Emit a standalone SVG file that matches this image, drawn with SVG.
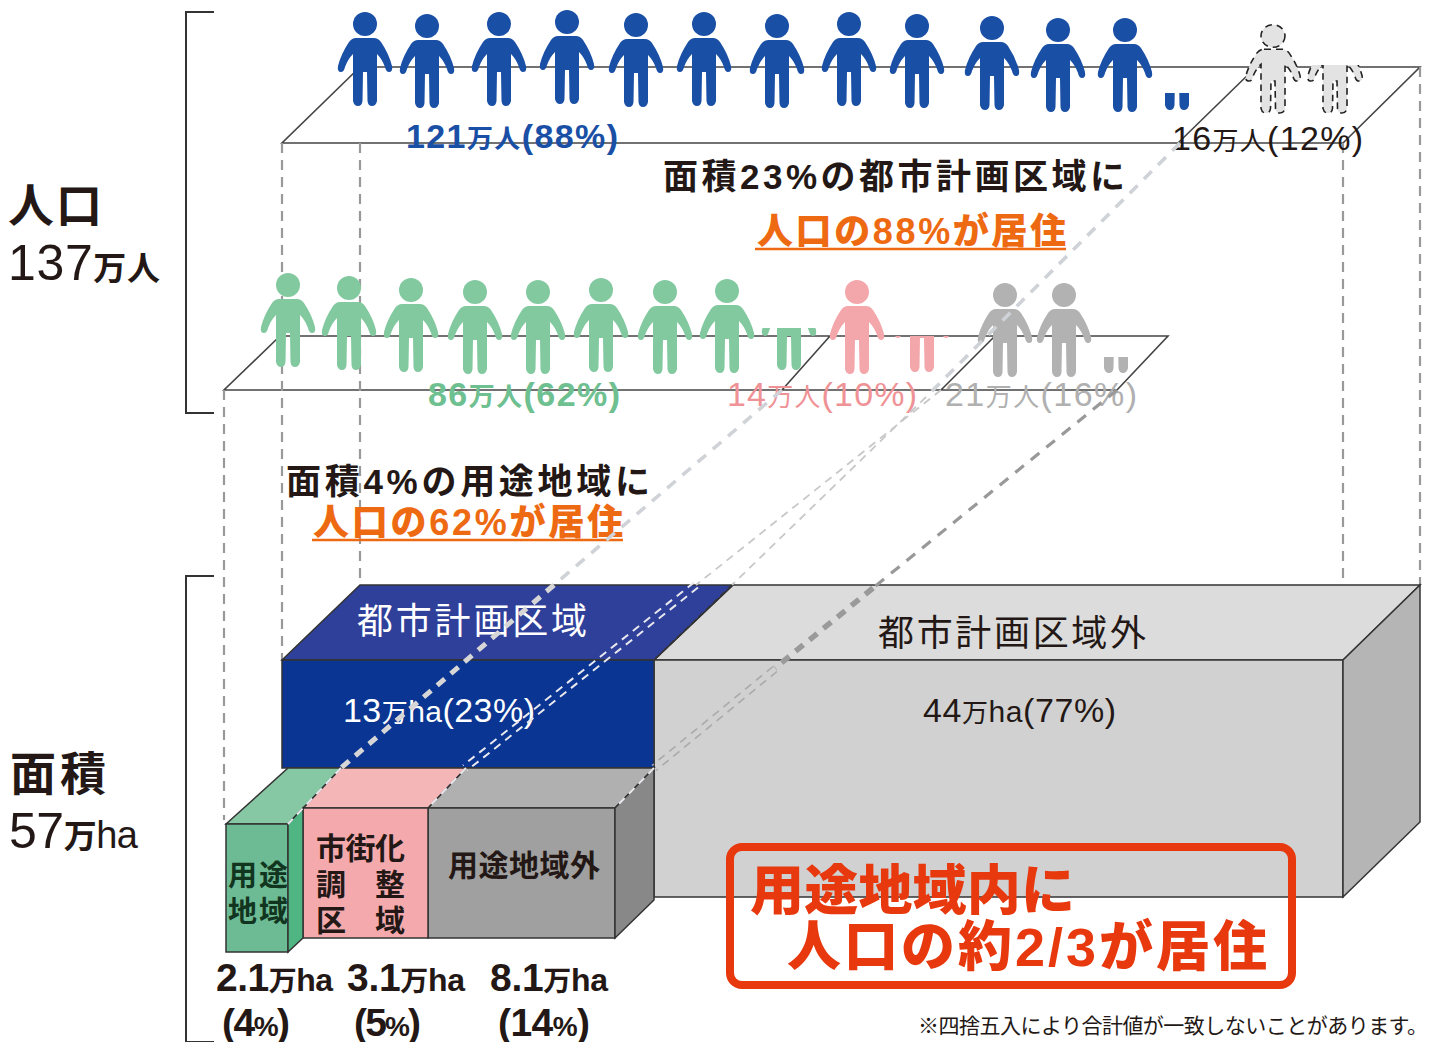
<svg xmlns="http://www.w3.org/2000/svg" xmlns:xlink="http://www.w3.org/1999/xlink" width="1430" height="1042" viewBox="0 0 1430 1042">
<style>
text{font-family:"Liberation Sans Narrow","Liberation Sans","Noto Sans CJK JP","Noto Sans",sans-serif;fill:#231815}
.b{font-weight:700}
.m{font-weight:500}
.w{fill:#fff}
.or{fill:#ee6a12;font-weight:900}
.red{fill:#e8380d;font-weight:900}
.e{stroke:#333;stroke-width:1.5}
.pl{fill:none;stroke:#444;stroke-width:1.6}
.v{fill:none;stroke:#999;stroke-width:2.2;stroke-dasharray:10 7}
.br{fill:none;stroke:#333;stroke-width:2}
.pb{fill:#1a4fa6}.pg{fill:#82c9a0}.pp{fill:#f4a7ab}.pa{fill:#b2b2b2}
.pd{fill:#e3e3e3;stroke:#222;stroke-width:1.6;stroke-dasharray:7 5}
.l1{fill:none;stroke:#cfd2d6;stroke-width:3.6;stroke-dasharray:11 9}
.l1t{fill:none;stroke:#d6d6d6;stroke-width:5;stroke-dasharray:10 8}
.l2{fill:none;stroke:#c8c8c8;stroke-width:1.8;stroke-dasharray:8 6}
.l3{fill:none;stroke:#999;stroke-width:3.2;stroke-dasharray:11 9}
.l3t{fill:none;stroke:#9a9a9a;stroke-width:5.5;stroke-dasharray:10 8}
.l4{fill:none;stroke:#aaa;stroke-width:1.6;stroke-dasharray:8 6}
.l5{fill:none;stroke:#e8e8ee;stroke-width:2;stroke-dasharray:8 6}
.ln{fill:none;stroke:#333;stroke-width:1.6;stroke-dasharray:6 4}
</style>
<defs>
<g id="p"><circle cx="0" cy="0" r="12"/><path d="M-9,14H9Q13,14 16,18Q24,30 27,42Q28,48 24,48Q21,48 20,43Q17,35 12,30L12,77Q11,82 7,82Q3,82 2.5,77L2,48H-2L-2.5,77Q-3,82 -7,82Q-11,82 -12,77L-12,30Q-17,35 -20,43Q-21,48 -24,48Q-28,48 -27,42Q-24,30 -16,18Q-13,14 -9,14Z"/></g>
<clipPath id="c1"><rect x="1150" y="93" width="60" height="30"/></clipPath>
<clipPath id="c2"><rect x="1295" y="65" width="80" height="60"/></clipPath>
<clipPath id="c3"><rect x="755" y="328" width="70" height="50"/></clipPath>
<clipPath id="c4"><rect x="890" y="336" width="70" height="40"/></clipPath>
<clipPath id="c5"><rect x="1090" y="357" width="50" height="20"/></clipPath>
</defs>
<rect width="1430" height="1042" fill="#fff"/>

<g id="brackets">
<path class="br" d="M214,12H186V413H214"/>
<path class="br" d="M214,576H186V1042H214"/>
</g>
<g id="label-population">
<text class="b" x="8" y="222" font-size="46" textLength="94">人口</text>
<text x="8" y="280" font-size="50" textLength="152">137<tspan font-size="33" font-weight="700">万人</tspan></text>
</g>
<g id="label-area">
<text class="b" x="10" y="790" font-size="46" textLength="96">面積</text>
<text x="9" y="848" font-size="50" textLength="129">57<tspan font-size="33" font-weight="700">万</tspan><tspan font-size="38">ha</tspan></text>
</g>

<g id="plane-top">
<path class="pl" d="M282,143H1343L1420,67H360ZM1178,143L1256,67"/>
</g>
<g id="plane-mid">
<path class="pl" d="M224,390H1117L1168,336H280ZM782,390L830,336M941,390L995,336"/>
</g>

<g id="guides">
<path class="v" d="M282,143V660M360,143V585M1343,143V660M1420,67V585M224,390V820"/>
</g>

<g id="people-blue" class="pb">
<use href="#p" x="365" y="24"/><use href="#p" x="427" y="26"/><use href="#p" x="499" y="24"/><use href="#p" x="567" y="22"/><use href="#p" x="636" y="25"/><use href="#p" x="704" y="24"/><use href="#p" x="777" y="26"/><use href="#p" x="849" y="24"/><use href="#p" x="917" y="26"/><use href="#p" x="992" y="28"/><use href="#p" x="1058" y="30"/><use href="#p" x="1125" y="30"/>
<g clip-path="url(#c1)"><use href="#p" x="1177" y="28"/></g>
</g>
<g id="people-dashed" class="pd">
<g transform="translate(1273,36) scale(1,.94)"><use href="#p"/></g>
<g clip-path="url(#c2)"><g transform="translate(1335,36) scale(1,.94)"><use href="#p"/></g></g>
</g>
<g id="people-green" class="pg">
<use href="#p" x="288" y="285"/><use href="#p" x="349" y="288"/><use href="#p" x="411" y="290"/><use href="#p" x="475" y="292"/><use href="#p" x="538" y="292"/><use href="#p" x="601" y="290"/><use href="#p" x="665" y="292"/><use href="#p" x="727" y="291"/>
<g clip-path="url(#c3)"><use href="#p" x="789" y="288"/></g>
</g>
<g id="people-pink" class="pp">
<use href="#p" x="857" y="292"/>
<g clip-path="url(#c4)"><use href="#p" x="922" y="290"/></g>
</g>
<g id="people-gray" class="pa">
<use href="#p" x="1005" y="295"/><use href="#p" x="1064" y="295"/>
<g clip-path="url(#c5)"><use href="#p" x="1116" y="291"/></g>
</g>

<g id="population-labels">
<text x="406" y="148" font-size="34" font-weight="700" style="fill:#1a4fa6" textLength="212">121<tspan font-size="26">万人</tspan>(88%)</text>
<text x="1172" y="150" font-size="34" textLength="191">16<tspan font-size="26">万人</tspan>(12%)</text>
<text x="428" y="406" font-size="34" font-weight="700" style="fill:#6fc091" textLength="192">86<tspan font-size="26">万人</tspan>(62%)</text>
<text x="727" y="406" font-size="34" style="fill:#ef9296" textLength="190">14<tspan font-size="26">万人</tspan>(10%)</text>
<text x="945" y="406" font-size="34" style="fill:#b0b0b0" textLength="192">21<tspan font-size="26">万人</tspan>(16%)</text>
</g>

<g id="note-88">
<text class="b" x="663" y="189" font-size="35" textLength="462">面積23%の都市計画区域に</text>
<text class="or" x="757" y="244" font-size="36" textLength="309">人口の88%が居住</text>
<path d="M755,249H1066" stroke="#ee6a12" stroke-width="2.5" fill="none"/>
</g>
<g id="note-62">
<text class="b" x="286" y="494" font-size="35" textLength="364">面積4%の用途地域に</text>
<text class="or" x="313" y="535" font-size="36" textLength="310">人口の62%が居住</text>
<path d="M312,540H623" stroke="#ee6a12" stroke-width="2.5" fill="none"/>
</g>

<g id="block-outside">
<path class="e" fill="#dcdcdc" d="M654,660L733,585H1420L1343,660Z"/>
<rect class="e" x="654" y="660" width="689" height="237" fill="#d1d1d1"/>
<path class="e" fill="#b5b5b5" d="M1343,660L1420,585V822L1343,897Z"/>
<text x="878" y="646" font-size="36" textLength="268">都市計画区域外</text>
<text x="923" y="722" font-size="34" textLength="193">44<tspan font-size="26">万</tspan><tspan font-size="30">ha</tspan>(77%)</text>
</g>
<g id="block-city">
<path class="e" fill="#2f409a" d="M282,660L360,585H733L654,660Z"/>
<rect class="e" x="282" y="660" width="372" height="108" fill="#0a3592"/>
<text class="w" x="357" y="634" font-size="36" textLength="230">都市計画区域</text>
<text class="w" x="343" y="722" font-size="34" textLength="192">13<tspan class="w" font-size="26">万</tspan><tspan class="w" font-size="30">ha</tspan>(23%)</text>
</g>
<g id="block-outside-use">
<path class="e" fill="#b0b0b0" d="M428,808L466,768H654L615,808Z"/>
<rect class="e" x="428" y="808" width="187" height="130" fill="#a0a0a0"/>
<path class="e" fill="#888" d="M615,808L654,768V900L615,938Z"/>
<text class="b" x="448" y="876" font-size="30" textLength="152">用途地域外</text>
</g>
<g id="block-urbanization">
<path class="e" fill="#f4b6b6" d="M303,808L341,768H466L428,808Z"/>
<rect class="e" x="303" y="808" width="125" height="130" fill="#f4a9ad"/>
<text class="b" x="316" y="859" font-size="30" textLength="89">市街化</text>
<text class="b" x="316" y="895" font-size="30">調</text><text class="b" x="375" y="895" font-size="30">整</text>
<text class="b" x="316" y="931" font-size="30">区</text><text class="b" x="375" y="931" font-size="30">域</text>
</g>
<g id="block-use">
<path class="e" fill="#86c8a4" d="M226,824L288,768H341L288,824Z"/>
<rect class="e" x="226" y="824" width="62" height="128" fill="#6dbb94"/>
<path class="e" fill="#4fb582" d="M288,824L303,808V938L288,952Z"/>
<text class="b" x="228" y="886" font-size="29" textLength="60" style="fill:#12351f">用途</text>
<text class="b" x="228" y="922" font-size="29" textLength="60" style="fill:#12351f">地域</text>
</g>

<g id="connectors">
<path class="l1" d="M1180,143L926,397"/>
<path class="l2" d="M926,397L732,585"/>
<path class="ln" d="M732,585L654,660"/>
<path class="l1" d="M782,390L554,585"/>
<path class="l1t" d="M554,585L341,768"/>
<path class="l5" d="M341,768L288,824"/>
<path class="l2" d="M941,390L696,585"/>
<path class="l5" d="M694,582.5L463,765.5M698,587.5L467,770.5"/>
<path class="l5" d="M466,768L428,808"/>
<path class="l3" d="M1117,390L873,588"/>
<path class="l3t" d="M873,588L775,668"/>
<path class="l4" d="M773,666.5L652,765.5M777,671.5L656,770.5"/>
<path class="l5" d="M654,768L615,808"/>
</g>

<g id="size-labels">
<text class="b" x="216" y="991" font-size="39" textLength="117">2.1<tspan font-size="28">万</tspan><tspan font-size="32">ha</tspan></text>
<text class="b" x="347" y="991" font-size="39" textLength="118">3.1<tspan font-size="28">万</tspan><tspan font-size="32">ha</tspan></text>
<text class="b" x="490" y="991" font-size="39" textLength="118">8.1<tspan font-size="28">万</tspan><tspan font-size="32">ha</tspan></text>
<text class="b" x="222" y="1036" font-size="39" textLength="68">(4<tspan font-size="28">%</tspan>)</text>
<text class="b" x="354" y="1036" font-size="39" textLength="67">(5<tspan font-size="28">%</tspan>)</text>
<text class="b" x="498" y="1036" font-size="39" textLength="92">(14<tspan font-size="28">%</tspan>)</text>
</g>

<g id="callout">
<rect x="730" y="847" width="562" height="138" rx="12" fill="none" stroke="#e8380d" stroke-width="8"/>
<text class="red" x="750" y="910" font-size="54" textLength="325">用途地域内に</text>
<text class="red" x="787" y="966" font-size="54" textLength="480">人口の約2/3が居住</text>
</g>
<text id="footnote" x="918" y="1033" font-size="21" textLength="510">※四捨五入により合計値が一致しないことがあります。</text>
</svg>
